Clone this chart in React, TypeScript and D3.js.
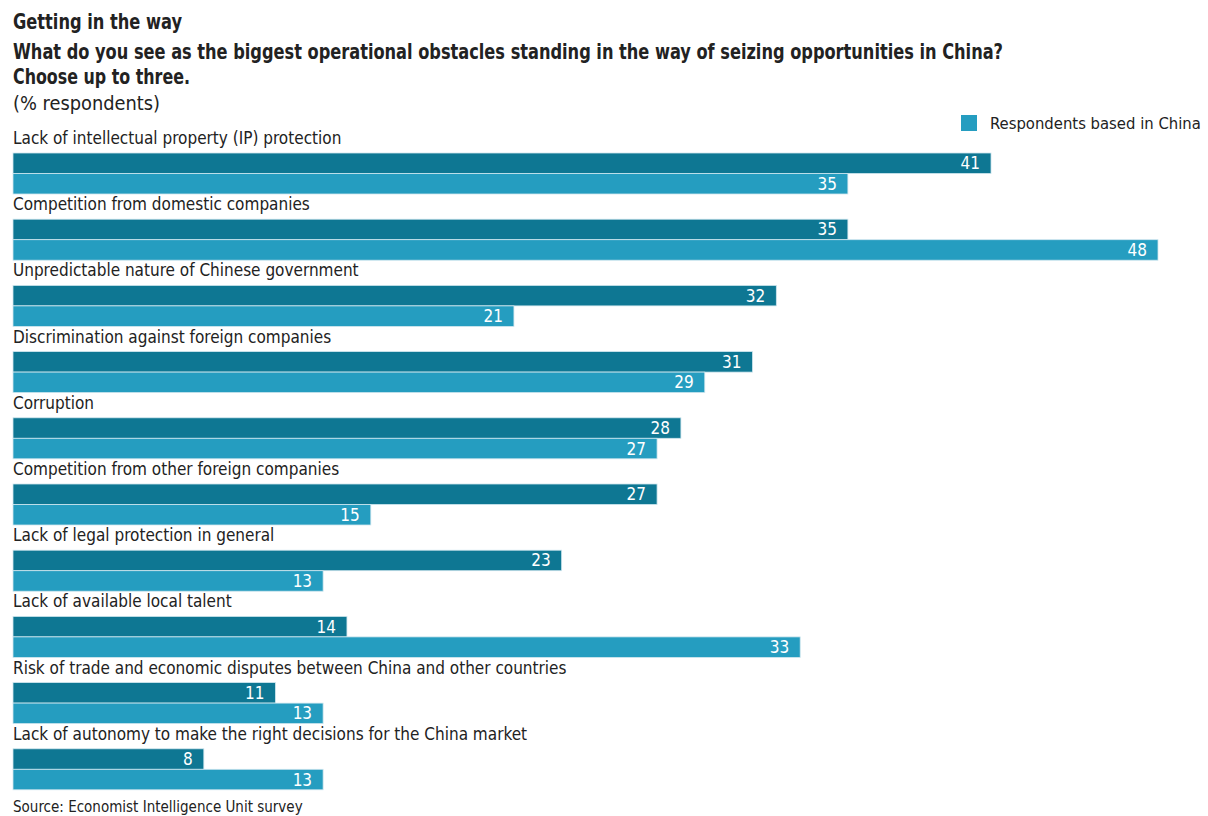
import React from "react";
import * as d3 from "d3";

const categories = [
  "Lack of intellectual property (IP) protection",
  "Competition from domestic companies",
  "Unpredictable nature of Chinese government",
  "Discrimination against foreign companies",
  "Corruption",
  "Competition from other foreign companies",
  "Lack of legal protection in general",
  "Lack of available local talent",
  "Risk of trade and economic disputes between China and other countries",
  "Lack of autonomy to make the right decisions for the China market",
];
const allRespondents = [41, 35, 32, 31, 28, 27, 23, 14, 11, 8];
const chinaRespondents = [35, 48, 21, 29, 27, 15, 13, 33, 13, 13];
const legendLabel = "Respondents based in China";
const titleLines = [
  "Getting in the way",
  "What do you see as the biggest operational obstacles standing in the way of seizing opportunities in China?",
  "Choose up to three.",
];
const unitLabel = "(% respondents)";
const sourceText = "Source: Economist Intelligence Unit survey";

const W = 1208;
const H = 816;
const FONT = "'DejaVu Sans Condensed', 'Liberation Sans Narrow', sans-serif";
const DARK = "#0e7793";
const LIGHT = "#259dc0";
const INK = "#222";

export default function App() {
  const x = d3.scaleLinear().domain([0, 48]).range([13, 1158]);
  const band = d3
    .scaleBand<number>()
    .domain(d3.range(categories.length))
    .range([153, 153 + 66.2 * categories.length])
    .paddingInner(0)
    .paddingOuter(0);
  const barH = 20.5;
  const titleWidths = [169, 990, 177];
  const titleY = [29, 59, 84];

  return (
    <svg
      width={W}
      height={H}
      style={{ position: "absolute", left: 0, top: 0 }}
      fontFamily={FONT}
    >
      <rect width={W} height={H} fill="#fff" />
      {titleLines.map((t, i) => (
        <text
          key={i}
          x={13}
          y={titleY[i]}
          fontSize={21}
          fontWeight="bold"
          fill={INK}
          textLength={titleWidths[i]}
          lengthAdjust="spacingAndGlyphs"
        >
          {t}
        </text>
      ))}
      <text x={13} y={110} fontSize={20} fill={INK} textLength={147} lengthAdjust="spacingAndGlyphs">
        {unitLabel}
      </text>

      <rect x={961} y={115} width={16} height={16} fill={LIGHT} />
      <text x={990} y={129} fontSize={16.5} fill={INK}>
        {legendLabel}
      </text>

      {categories.map((c, i) => {
        const y0 = band(i)!;
        return (
          <g key={c}>
            <text x={13} y={y0 - 9} fontSize={17} fill={INK}>{c}</text>
            <rect
              x={x(0)}
              y={y0}
              width={x(allRespondents[i]) - x(0)}
              height={barH}
              fill={DARK}
              stroke="#cfe6ee"
              strokeWidth={0.8}
            />
            <text
              x={x(allRespondents[i]) - 11}
              y={y0 + barH / 2 + 6}
              fontSize={17}
              fill="#fff"
              textAnchor="end"
            >
              {allRespondents[i]}
            </text>
            <rect
              x={x(0)}
              y={y0 + barH}
              width={x(chinaRespondents[i]) - x(0)}
              height={barH}
              fill={LIGHT}
              stroke="#cfe6ee"
              strokeWidth={0.8}
            />
            <text
              x={x(chinaRespondents[i]) - 11}
              y={y0 + barH * 1.5 + 6}
              fontSize={17}
              fill="#fff"
              textAnchor="end"
            >
              {chinaRespondents[i]}
            </text>
          </g>
        );
      })}

      <text x={13} y={812} fontSize={15} fill={INK}>{sourceText}</text>
    </svg>
  );
}
